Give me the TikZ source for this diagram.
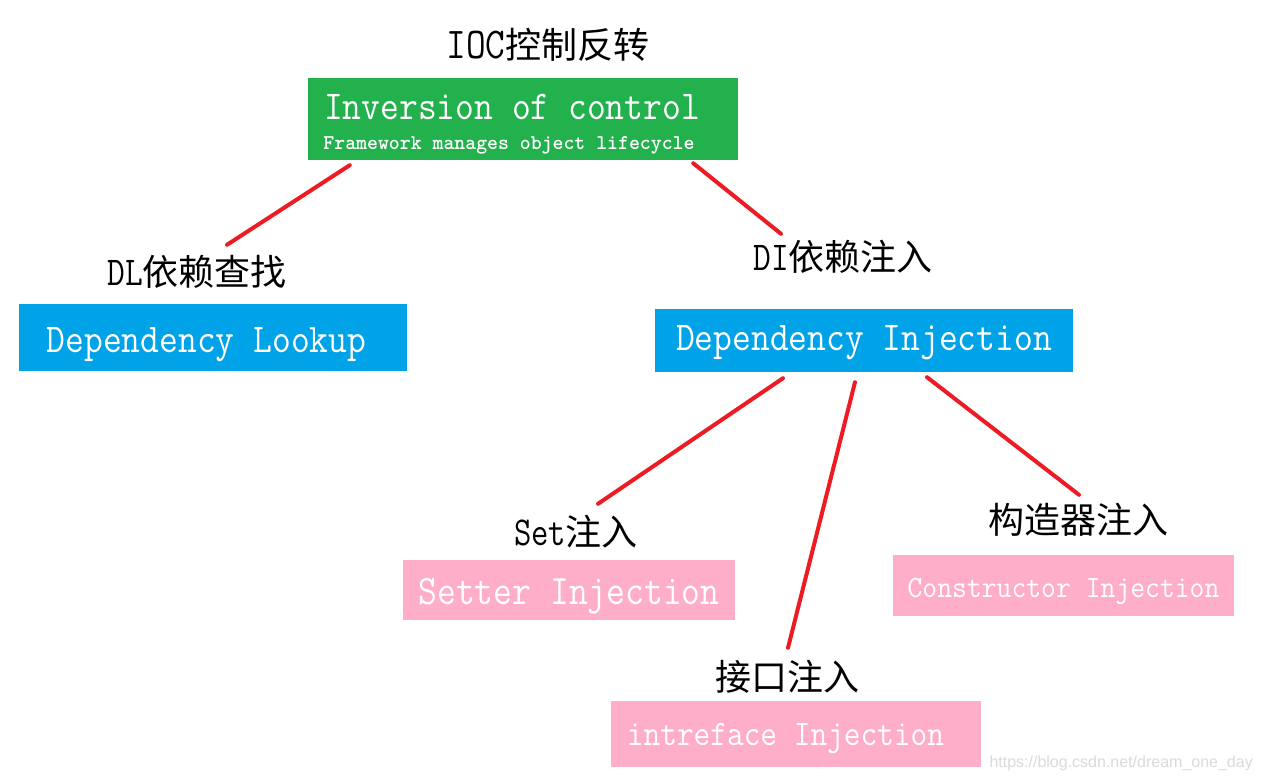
\documentclass[tikz,border=0pt]{standalone}
\usepackage{fontspec}
\usepackage{graphicx}
\newfontfamily\cjk{Noto Sans CJK SC}
\newfontfamily\wmfont{Liberation Sans}
\definecolor{iocgreen}{HTML}{22B14C}
\definecolor{diblue}{HTML}{00A2E8}
\definecolor{injpink}{HTML}{FFAEC9}
\definecolor{linkred}{HTML}{ED1C24}
\definecolor{wmgrey}{HTML}{DADADA}
\newcommand\monotext[4][0pt]{\raisebox{-#1}[\height][\depth]{\scalebox{#3}[1]{\fontsize{#2}{#2}\selectfont\ttfamily #4}}}
\tikzset{
  lbl/.style={inner sep=0pt, text=black, font=\fontsize{36}{40}\selectfont\cjk},
  box/.style={inner sep=0pt, text=white},
  link/.style={draw=linkred, line width=4pt, line cap=round}
}
\begin{document}
\begin{tikzpicture}[x=1pt,y=-1pt]
\fill[white] (0,0) rectangle (1262,779);
\useasboundingbox (0,0) rectangle (1262,779);

% boxes
\node[box, fill=iocgreen, minimum width=430pt, minimum height=82pt, align=center,
      font=\fontsize{20}{30}\selectfont] (ioc) at (523,119)
  {\monotext[5pt]{41}{0.89}{Inversion of control}\hspace*{22pt}\\\monotext[5pt]{21}{0.99}{\bfseries Framework manages object lifecycle}\hspace*{28pt}};
\node[box, fill=diblue, minimum width=388pt, minimum height=67pt] (dl) at (213,337.5)
  {\monotext[7pt]{41}{0.89}{Dependency Lookup}\hspace*{13pt}};
\node[box, fill=diblue, minimum width=418pt, minimum height=63pt] (di) at (864,340.5)
  {\monotext[2pt]{41}{0.89}{Dependency Injection}};
\node[box, fill=injpink, minimum width=332pt, minimum height=60pt] (setter) at (569,590)
  {\monotext[6pt]{42}{0.87}{Setter Injection}};
\node[box, fill=injpink, minimum width=341pt, minimum height=61pt] (ctor) at (1063.5,585.5)
  {\monotext[6pt]{31}{0.93}{Constructor Injection}};
\node[box, fill=injpink, minimum width=370pt, minimum height=66pt] (iface) at (796,734)
  {\monotext[4pt]{36}{0.90}{intreface Injection}\hspace*{21pt}};

% labels
\node[lbl] (ioclbl) at (548,45) {\monotext{44}{0.87}{IOC}控制反转};
\node[lbl] (dllbl) at (197,272) {\monotext{41}{0.84}{DL}依赖查找};
\node[lbl] (dilbl) at (843,257) {\monotext{41}{0.84}{DI}依赖注入};
\node[lbl] (setlbl) at (576,532) {\monotext{41}{0.82}{Set}注入};
\node[lbl] (ctorlbl) at (1078,520) {构造器注入};
\node[lbl] (ifacelbl) at (787,677) {接口注入};

% watermark
\node[inner sep=0pt, text=wmgrey, font=\fontsize{16}{18}\selectfont\wmfont, anchor=base east] (wm) at (1253,767) {https://blog.csdn.net/dream\_one\_day};

% connectors
\draw[link] ([xshift=42pt,yshift=-5pt]ioc.south west) -- ([xshift=14pt,yshift=59pt]dl.north);
\draw[link] ([xshift=-45pt,yshift=-3pt]ioc.south east) -- ([xshift=-83pt,yshift=75pt]di.north);
\draw[link] ([xshift=-81pt,yshift=-6pt]di.south) -- ([xshift=29pt,yshift=56pt]setter.north);
\draw[link] ([xshift=-9pt,yshift=-10pt]di.south) -- ([xshift=-8pt,yshift=53pt]iface.north);
\draw[link] ([xshift=63pt,yshift=-5pt]di.south) -- ([xshift=15.5pt,yshift=60pt]ctor.north);
\end{tikzpicture}
\end{document}
